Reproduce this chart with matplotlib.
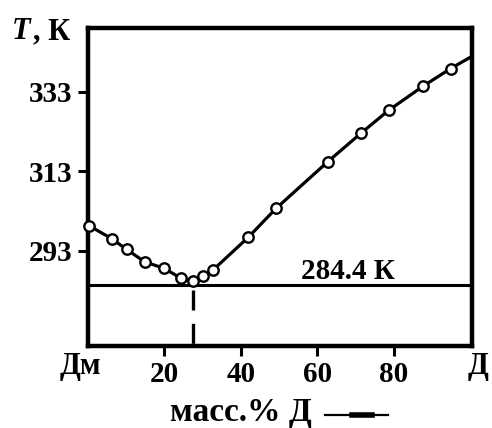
# Диаграмма плавкости Дм - Д
import numpy as np
import matplotlib.pyplot as plt
from matplotlib.lines import Line2D

plt.rcParams['font.family'] = ['Liberation Serif', 'DejaVu Serif']
plt.rcParams['font.weight'] = 'bold'

# экспериментальные точки (масс.% Д, T в K)
mass_pct = [0.2, 6.2, 10.1, 14.8, 20.0, 24.4, 27.6, 30.2, 32.8,
            41.9, 49.2, 62.8, 71.4, 78.7, 87.6, 94.9]
temp_K = [299.3, 296.0, 293.3, 290.2, 288.5, 286.0, 285.4, 286.5, 288.2,
          296.3, 303.6, 315.4, 322.5, 328.3, 334.3, 338.8]
# конец кривой у правой оси
end_pct = 100.0
end_T = 341.6

eut_pct = 27.6
eut_T = 284.4

xticks = [20, 40, 60, 80]
yticks = [293, 313, 333]

FS = 21

fig = plt.figure(figsize=(4.92, 4.28), dpi=100)
ax = fig.add_axes([88/492, 1 - 346/428, (472-88)/492, (346-28)/428])

ax.axhline(eut_T, color='k', lw=2.2, zorder=2)
ax.plot([eut_pct, eut_pct], [eut_T - 1.2, 269], color='k', lw=2.4,
        dashes=(6, 4), zorder=2, clip_on=False)

ax.plot(mass_pct + [end_pct], temp_K + [end_T], color='k', lw=2.3, zorder=3,
        clip_on=False)
ax.plot(mass_pct, temp_K, 'o', ms=7.5, mfc='white', mec='k', mew=1.7,
        zorder=4, clip_on=False)

ax.text(68, 285.8, '284.4 К', ha='center', va='baseline', fontsize=FS,
        fontweight='bold')

ax.set_xlim(0, 100.5)
ax.set_ylim(269, 349)
ax.set_xticks(xticks)
ax.set_yticks(yticks)
ax.tick_params(direction='out', length=7.5, width=2.2, labelsize=FS, pad=3)
ax.tick_params(axis='y', pad=4)
for s in ax.spines.values():
    s.set_linewidth(3.2)

ax.text(-2, -0.02, 'Дм', transform=ax.get_xaxis_transform(),
        ha='center', va='top', fontsize=FS + 1, fontweight='bold')
ax.text(102, -0.02, 'Д', transform=ax.get_xaxis_transform(),
        ha='center', va='top', fontsize=FS + 1, fontweight='bold')

# подпись оси Y
fig.text(12/492, 1 - 39/428, 'T', fontsize=FS + 1, fontstyle='italic',
         fontweight='bold', va='baseline')
fig.text(33/492, 1 - 39/428, ', К', fontsize=FS + 1, fontweight='bold',
         va='baseline')

# подпись оси X со стрелкой
fig.text(170/492, 1 - 421/428, 'масс.% Д', fontsize=FS + 3,
         fontweight='bold', va='baseline')
fig.add_artist(Line2D([325/492, 388/492], [1 - 415/428, 1 - 415/428],
                      color='k', lw=1.6))
fig.add_artist(Line2D([352/492, 372/492], [1 - 415/428, 1 - 415/428],
                      color='k', lw=4))

fig.savefig('out.png', dpi=100)
